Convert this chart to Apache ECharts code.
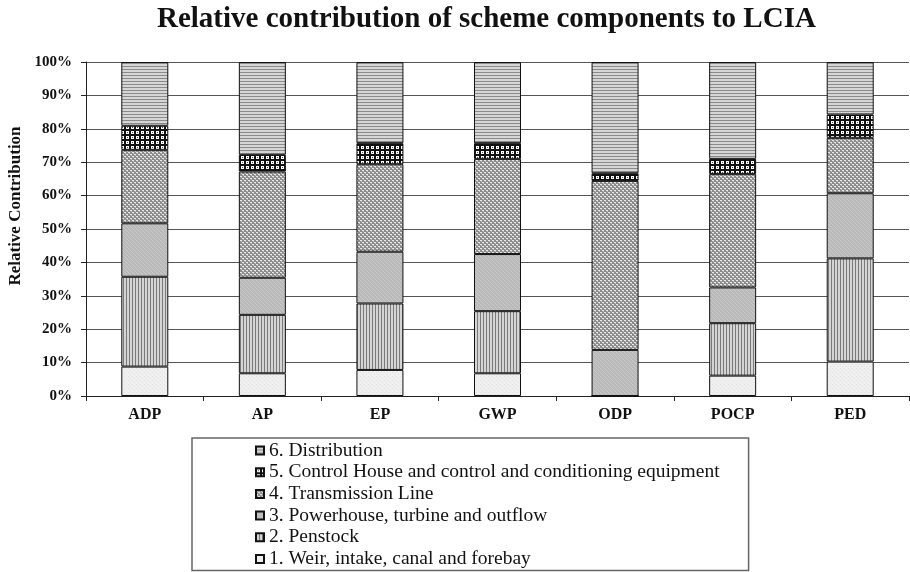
<!DOCTYPE html>
<html>
<head>
<meta charset="utf-8">
<script src="https://cdn.jsdelivr.net/npm/echarts@6/dist/echarts.min.js"></script>
<style>html,body{margin:0;padding:0;background:#fff;}#c{width:910px;height:572px;}</style>
</head>
<body>
<div id="c"></div>
<script>
var categories = ['ADP', 'AP', 'EP', 'GWP', 'ODP', 'POCP', 'PED'];
var seriesNames = ['1. Weir, intake, canal and forebay', '2. Penstock', '3. Powerhouse, turbine and outflow', '4. Transmission Line', '5. Control House and control and conditioning equipment', '6. Distribution'];
var weir         = [8.8, 6.8, 7.8, 6.8, 0, 6.1, 10.3];
var penstock     = [26.9, 17.5, 19.9, 18.6, 0, 15.7, 30.9];
var powerhouse   = [16.0, 11.1, 15.5, 17.1, 13.8, 10.7, 19.5];
var transmission = [22.0, 31.8, 26.2, 28.5, 50.6, 34.0, 16.6];
var control      = [7.2, 5.0, 6.3, 4.7, 2.3, 4.5, 7.0];
var distribution = [19.1, 27.8, 24.3, 24.3, 33.3, 29.0, 15.7];
var yTicks = ['0%', '10%', '20%', '30%', '40%', '50%', '60%', '70%', '80%', '90%', '100%'];

function pat(w, h, draw) {
  var c = document.createElement('canvas');
  c.width = w; c.height = h;
  var g = c.getContext('2d');
  draw(g);
  return { image: c, repeat: 'repeat' };
}
var fills = [
  pat(4, 4, function (g) { g.fillStyle = '#efefef'; g.fillRect(0, 0, 4, 4); g.fillStyle = '#e3e3e3'; g.fillRect(0, 0, 1, 1); g.fillRect(2, 2, 1, 1); }),
  pat(3, 3, function (g) { g.fillStyle = '#d4d4d4'; g.fillRect(0, 0, 3, 3); g.fillStyle = '#7a7a7a'; g.fillRect(0, 0, 1, 3); }),
  pat(4, 4, function (g) { g.fillStyle = '#b9b9b9'; g.fillRect(0, 0, 4, 4); g.fillStyle = '#cacaca'; g.fillRect(0, 0, 1, 1); g.fillRect(1, 1, 1, 1); g.fillRect(2, 2, 1, 1); g.fillRect(3, 3, 1, 1); }),
  pat(4, 4, function (g) { g.fillStyle = '#8c8c8c'; g.fillRect(0, 0, 4, 4); g.fillStyle = '#e8e8e8'; g.fillRect(0, 0, 2, 1); g.fillRect(2, 2, 2, 1); g.fillStyle = '#bdbdbd'; g.fillRect(1, 1, 1, 1); g.fillRect(3, 3, 1, 1); }),
  pat(5, 5, function (g) { g.fillStyle = '#111111'; g.fillRect(0, 0, 5, 5); g.fillStyle = '#ffffff'; g.fillRect(1, 1, 3, 3); g.fillStyle = '#555555'; g.fillRect(2, 2, 1, 1); }),
  pat(3, 3, function (g) { g.fillStyle = '#d6d6d6'; g.fillRect(0, 0, 3, 3); g.fillStyle = '#8a8a8a'; g.fillRect(0, 0, 3, 1); })
];
var values = [weir, penstock, powerhouse, transmission, control, distribution];

var serif = '"Liberation Serif", "Times New Roman", serif';
var series = seriesNames.map(function (n, i) {
  return {
    name: n,
    type: 'bar',
    stack: 'total',
    barWidth: 47,
    data: values[i],
    itemStyle: { color: fills[i], borderColor: '#111', borderWidth: 1 },
    emphasis: { disabled: true }
  };
});

var chart = echarts.init(document.getElementById('c'), null, { renderer: 'canvas' });
chart.setOption({
  backgroundColor: '#ffffff',
  animation: false,
  title: {
    text: 'Relative contribution of scheme components to LCIA',
    left: 157,
    top: 5,
    padding: 0,
    textStyle: { fontFamily: serif, fontWeight: 'bold', fontSize: 29, color: '#111' }
  },
  grid: { left: 86, right: 1, top: 62, bottom: 176, containLabel: false },
  xAxis: {
    type: 'category',
    data: categories,
    axisLine: { lineStyle: { color: '#222', width: 1 } },
    axisTick: { show: true, length: 5, interval: 0, lineStyle: { color: '#222' } },
    axisLabel: { margin: 11, fontFamily: serif, fontWeight: 'bold', fontSize: 16, color: '#111' }
  },
  yAxis: {
    type: 'value',
    min: 0,
    max: 100,
    interval: 10,
    axisLine: { show: true, lineStyle: { color: '#222', width: 1 } },
    axisTick: { show: true, length: 5, lineStyle: { color: '#222' } },
    splitLine: { show: true, lineStyle: { color: '#555', width: 1 } },
    axisLabel: {
      margin: 14,
      fontFamily: serif, fontWeight: 'bold', fontSize: 15, color: '#111',
      formatter: function (v) { return yTicks[Math.round(v / 10)]; }
    }
  },
  legend: {
    orient: 'vertical',
    left: 192,
    top: 438,
    data: seriesNames.slice().reverse(),
    icon: 'rect',
    itemWidth: 8,
    itemHeight: 8,
    itemGap: 0.7,
    padding: [2, 29, 1, 63],
    borderColor: '#666',
    borderWidth: 1.5,
    selectedMode: false,
    textStyle: { fontFamily: serif, fontSize: 19.5, color: '#111', lineHeight: 21 }
  },
  graphic: [{
    type: 'text',
    x: 16,
    y: 206,
    rotation: Math.PI / 2,
    style: {
      text: 'Relative Contribution',
      fontFamily: serif, fontWeight: 'bold', fontSize: 17, fill: '#111',
      align: 'center', verticalAlign: 'middle'
    }
  }],
  series: series
});
</script>
</body>
</html>
